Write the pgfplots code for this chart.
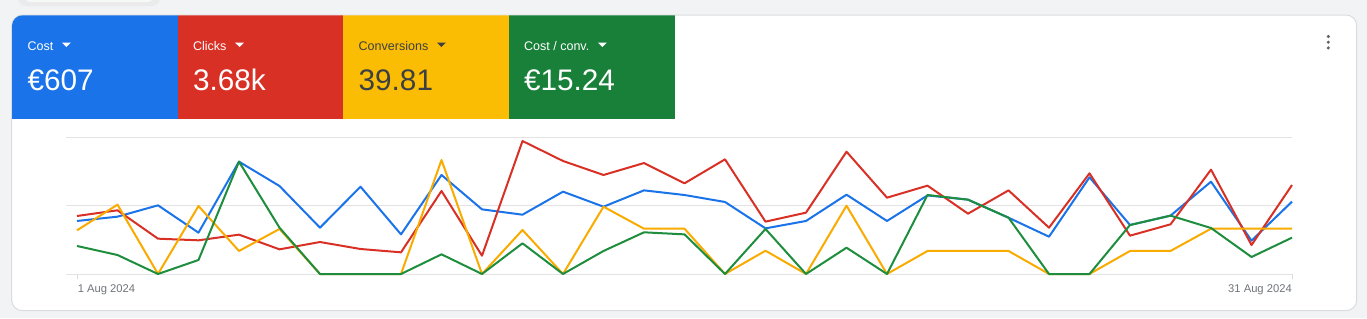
\documentclass[border=0pt]{standalone}
\usepackage{fontspec}
\setmainfont{Liberation Sans}
\usepackage{pgfplots}
\pgfplotsset{compat=1.18}
\definecolor{bg}{HTML}{F1F3F4}
\definecolor{cardborder}{HTML}{DADCE0}
\definecolor{gblue}{HTML}{1A73E8}
\definecolor{gred}{HTML}{D93025}
\definecolor{gyellow}{HTML}{FBBC04}
\definecolor{gyline}{HTML}{F9AB00}
\definecolor{ggreen}{HTML}{188038}
\definecolor{glgreen}{HTML}{1E8E3E}
\definecolor{darktext}{HTML}{3C4043}
\definecolor{gridgray}{HTML}{E3E3E3}
\definecolor{labelgray}{HTML}{70757A}
\definecolor{dotgray}{HTML}{5F6368}
\newcommand{\tile}[5]{%
  \node[anchor=base west, inner sep=0pt, text=#4, font=\fontsize{9.4}{11}\selectfont] (#5) at (#1,50) {#2};
  \fill[#4, shift={(#5.base east)}] (8.4,-7.3) -- (17.2,-7.3) -- (12.8,-3) -- cycle;
  \node[anchor=base west, inner sep=0pt, text=#4, font=\fontsize{22.3}{26}\selectfont] at (#1,90.7) {#3};
}
\begin{document}
\begin{tikzpicture}
\begin{scope}[x=0.75pt,y=-0.75pt]
\path[use as bounding box] (0,0) rectangle (1367,318);
\begin{scope}
\clip (0,0) rectangle (1367,318);
\fill[bg] (0,0) rectangle (1367,318);
\fill[black!8, rounded corners=6] (18,-12) rectangle (160,6);
\fill[bg!60!white, rounded corners=5] (24,-12) rectangle (154,2);
\end{scope}
\draw[cardborder, fill=white, rounded corners=8, line width=0.75pt] (11.7,15) rectangle (1356.7,310.7);
\begin{scope}
\clip[rounded corners=8] (12,15.3) rectangle (1356.4,310.4);
\fill[gblue] (12,15) rectangle (177.6,119.3);
\fill[gred] (177.6,15) rectangle (343.3,119.3);
\fill[gyellow] (343.3,15) rectangle (509,119.3);
\fill[ggreen] (509,15) rectangle (674.5,119.3);
\end{scope}
\tile{27.3}{Cost}{€607}{white}{t1}
\tile{192.8}{Clicks}{3.68k}{white}{t2}
\tile{358.4}{Conversions}{39.81}{darktext}{t3}
\tile{523.8}{Cost / conv.}{€15.24}{white}{t4}
\foreach \yy in {36.5,42.2,47.9} \fill[dotgray] (1328.3,\yy) circle (1.7);
\node[anchor=base west, inner sep=0pt, text=labelgray, font=\fontsize{8.4}{10}\selectfont] at (77.5,292) {1 Aug 2024};
\node[anchor=base east, inner sep=0pt, text=labelgray, font=\fontsize{8.4}{10}\selectfont] at (1292,292) {31 Aug 2024};
\end{scope}
\begin{axis}[
  at={(49.5pt,-205.5pt)}, anchor=south west,
  scale only axis, width=919.5pt, height=102.5pt,
  xmin=0.7284, xmax=31, ymin=0, ymax=2,
  axis line style={draw=none},
  ytick={0,1,2}, yticklabels={}, ytick style={draw=none},
  ymajorgrids, grid style={draw=gridgray, line width=0.75pt},
  xtick={1,31}, xticklabels={}, xtick pos=bottom, tick align=outside,
  major tick length=3.75pt, xtick style={draw=cardborder, line width=0.75pt},
  clip=false,
  every axis plot/.append style={line width=1.5pt, mark=none, line join=round},
]
\addplot[gblue] coordinates {
(1,0.776) (2,0.839) (3,1.005) (4,0.605) (5,1.644) (6,1.288) (7,0.678) (8,1.278)
(9,0.580) (10,1.449) (11,0.946) (12,0.868) (13,1.205) (14,0.985) (15,1.224) (16,1.156)
(17,1.054) (18,0.668) (19,0.776) (20,1.161) (21,0.776) (22,1.150) (23,1.088) (24,0.824)
(25,0.546) (26,1.415) (27,0.717) (28,0.854) (29,1.351) (30,0.488) (31,1.059)};
\addplot[gred] coordinates {
(1,0.849) (2,0.932) (3,0.517) (4,0.493) (5,0.576) (6,0.361) (7,0.468) (8,0.366)
(9,0.317) (10,1.215) (11,0.268) (12,1.946) (13,1.654) (14,1.449) (15,1.624) (16,1.327)
(17,1.678) (18,0.766) (19,0.898) (20,1.790) (21,1.117) (22,1.293) (23,0.883) (24,1.224)
(25,0.678) (26,1.473) (27,0.561) (28,0.727) (29,1.527) (30,0.424) (31,1.302)};
\addplot[gyline] coordinates {
(1,0.639) (2,1.015) (3,0) (4,0.995) (5,0.337) (6,0.659) (7,0) (8,0)
(9,0) (10,1.668) (11,0) (12,0.644) (13,0) (14,0.985) (15,0.663) (16,0.663)
(17,0) (18,0.341) (19,0) (20,1.000) (21,0) (22,0.337) (23,0.337) (24,0.337)
(25,0) (26,0) (27,0.337) (28,0.337) (29,0.663) (30,0.663) (31,0.663)};
\addplot[glgreen] coordinates {
(1,0.410) (2,0.278) (3,0) (4,0.205) (5,1.644) (6,0.678) (7,0) (8,0)
(9,0) (10,0.288) (11,0) (12,0.449) (13,0) (14,0.337) (15,0.610) (16,0.580)
(17,0) (18,0.659) (19,0) (20,0.385) (21,0) (22,1.156) (23,1.088) (24,0.824)
(25,0) (26,0) (27,0.717) (28,0.854) (29,0.673) (30,0.249) (31,0.532)};
\end{axis}
\end{tikzpicture}
\end{document}
